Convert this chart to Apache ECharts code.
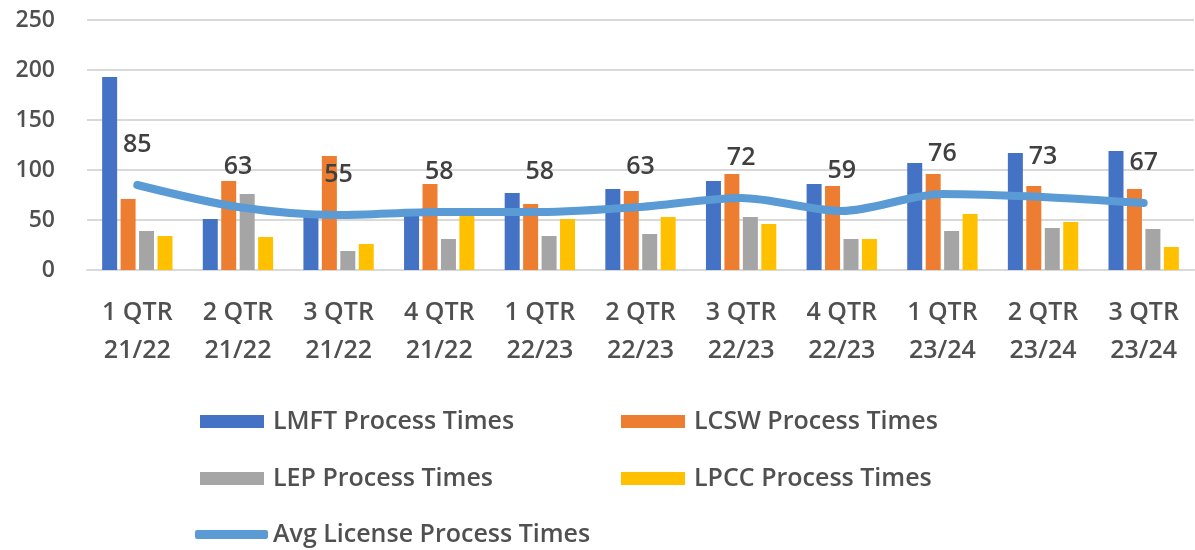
<!DOCTYPE html>
<html lang="en">

<head>
  <meta charset="utf-8">
  <title>License Process Times</title>
  <script src="https://cdn.jsdelivr.net/npm/echarts@6/dist/echarts.min.js"></script>
  <style>
    html, body { margin: 0; padding: 0; background: #fff; }
    #main { width: 1195px; height: 550px; }
  </style>
</head>

<body>
  <div id="main"></div>

  <script>
    // quarters on the x axis
    var categories = [
      '1 QTR\n21/22', '2 QTR\n21/22', '3 QTR\n21/22', '4 QTR\n21/22',
      '1 QTR\n22/23', '2 QTR\n22/23', '3 QTR\n22/23', '4 QTR\n22/23',
      '1 QTR\n23/24', '2 QTR\n23/24', '3 QTR\n23/24'
    ];

    // process times per license type
    var lmft = [193, 51, 55, 56, 77, 81, 89, 86, 107, 117, 119];
    var lcsw = [71, 89, 114, 86, 66, 79, 96, 84, 96, 84, 81];
    var lep = [39, 76, 19, 31, 34, 36, 53, 31, 39, 42, 41];
    var lpcc = [34, 33, 26, 56, 51, 53, 46, 31, 56, 48, 23];
    var avg = [85, 63, 55, 58, 58, 63, 72, 59, 76, 73, 67];

    var yTicks = [0, 50, 100, 150, 200, 250];

    var FONT = 'Open Sans';
    var TXT = '#505050';
    var WEIGHT = 600;

    var myChart = echarts.init(document.getElementById('main'));

    // one legend per entry so each one sits where it does in the picture
    function legendAt(name, left, top, width, height, icon) {
      return {
        data: [name],
        left: left,
        top: top,
        icon: icon,
        itemWidth: width,
        itemHeight: height,
        padding: 0,
        textStyle: {
          fontFamily: FONT,
          fontSize: 25,
          fontWeight: WEIGHT,
          color: TXT,
          padding: [0, 0, 0, icon === 'rect' ? 4 : 0]
        }
      };
    }

    function barSeries(name, data, color) {
      return {
        name: name,
        type: 'bar',
        data: data,
        barWidth: 15,
        barGap: '23%',
        itemStyle: { color: color }
      };
    }

    var option = {
      animation: false,
      textStyle: { fontFamily: FONT },
      grid: {
        left: 87,
        right: 1,
        top: 20,
        bottom: 280
      },
      legend: [
        legendAt('LMFT Process Times', 200, 409, 64, 13, 'rect'),
        legendAt('LCSW Process Times', 621, 409, 64, 13, 'rect'),
        legendAt('LEP Process Times', 200, 466, 64, 13, 'rect'),
        legendAt('LPCC Process Times', 621, 466, 64, 13, 'rect'),
        legendAt('Avg License Process Times', 195, 522, 73, 9, 'roundRect')
      ],
      xAxis: {
        type: 'category',
        data: categories,
        axisTick: { show: false },
        axisLine: { lineStyle: { color: '#d9d9d9', width: 2 } },
        axisLabel: {
          fontFamily: FONT,
          fontSize: 25,
          fontWeight: WEIGHT,
          lineHeight: 38,
          color: TXT,
          margin: 24
        }
      },
      yAxis: {
        type: 'value',
        min: yTicks[0],
        max: yTicks[yTicks.length - 1],
        interval: 50,
        axisLine: { show: false },
        axisTick: { show: false },
        axisLabel: {
          fontFamily: FONT,
          fontSize: 23,
          fontWeight: WEIGHT,
          color: TXT,
          margin: 32
        },
        splitLine: { lineStyle: { color: '#d9d9d9', width: 2 } }
      },
      series: [
        barSeries('LMFT Process Times', lmft, '#4472C4'),
        barSeries('LCSW Process Times', lcsw, '#ED7D31'),
        barSeries('LEP Process Times', lep, '#A5A5A5'),
        barSeries('LPCC Process Times', lpcc, '#FFC000'),
        {
          name: 'Avg License Process Times',
          type: 'line',
          data: avg,
          smooth: 0.3,
          symbol: 'circle',
          symbolSize: 0,
          showSymbol: true,
          z: 5,
          lineStyle: { color: '#5B9BD5', width: 8, cap: 'round', join: 'round' },
          itemStyle: { color: '#5B9BD5' },
          label: {
            show: true,
            position: 'top',
            distance: 28,
            fontFamily: FONT,
            fontSize: 25,
            fontWeight: WEIGHT,
            color: '#404040'
          }
        }
      ]
    };

    myChart.setOption(option);
  </script>
</body>

</html>
